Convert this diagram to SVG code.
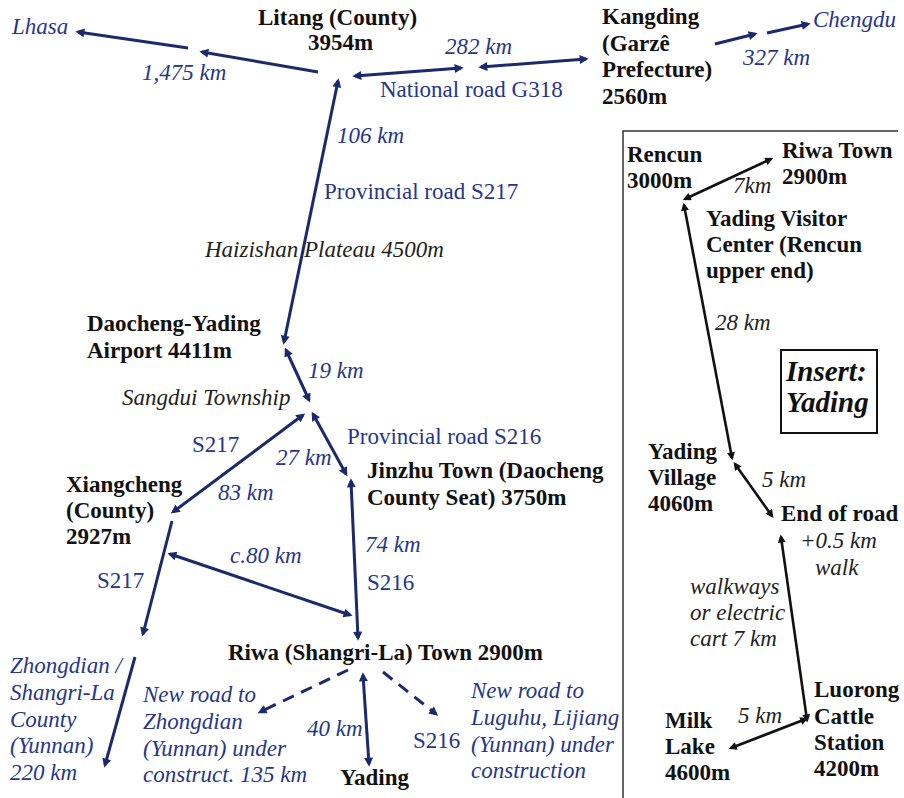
<svg xmlns="http://www.w3.org/2000/svg" width="904" height="798" viewBox="0 0 904 798" font-family="'Liberation Serif', 'DejaVu Serif', serif">
<style>
text{font-family:'Liberation Serif','DejaVu Serif','Noto Serif',serif;font-size:23px}
.b{font-weight:bold;fill:#111}
.bl{fill:#26368a}
.bi{fill:#26368a;font-style:italic}
.ki{fill:#222;font-style:italic}
.ln{stroke:#1a2a6c;stroke-width:3;fill:none}
.lk{stroke:#111;stroke-width:2.6;fill:none}
.d{stroke-dasharray:12 8}
</style>
<defs>
<marker id="an" viewBox="0 0 10 10" refX="7" refY="5" markerWidth="11" markerHeight="9" markerUnits="userSpaceOnUse" orient="auto-start-reverse"><path d="M0,0 L10,5 L0,10 z" fill="#1a2a6c"/></marker>
<marker id="ak" viewBox="0 0 10 10" refX="7" refY="5" markerWidth="10" markerHeight="8" markerUnits="userSpaceOnUse" orient="auto-start-reverse"><path d="M0,0 L10,5 L0,10 z" fill="#111"/></marker>
</defs>
<rect width="904" height="798" fill="#fff"/>

<g id="connectors">
<line class="ln" x1="188" y1="48" x2="78" y2="32" marker-end="url(#an)"/>
<line class="ln" x1="318" y1="72" x2="202" y2="52" marker-end="url(#an)"/>
<line class="ln" x1="355" y1="76" x2="461" y2="68" marker-start="url(#an)" marker-end="url(#an)"/>
<line class="ln" x1="481" y1="67" x2="586" y2="59" marker-start="url(#an)" marker-end="url(#an)"/>
<line class="ln" x1="715" y1="44" x2="755" y2="34" marker-end="url(#an)"/>
<line class="ln" x1="767" y1="33" x2="808" y2="24" marker-end="url(#an)"/>
<line class="ln" x1="338" y1="81" x2="284" y2="342" marker-start="url(#an)" marker-end="url(#an)"/>
<line class="ln" x1="286" y1="350" x2="309" y2="400" marker-start="url(#an)" marker-end="url(#an)"/>
<line class="ln" x1="303" y1="415" x2="173" y2="512" marker-start="url(#an)" marker-end="url(#an)"/>
<line class="ln" x1="313" y1="414" x2="346" y2="474" marker-start="url(#an)" marker-end="url(#an)"/>
<line class="ln" x1="351" y1="481" x2="358" y2="638" marker-start="url(#an)" marker-end="url(#an)"/>
<line class="ln" x1="172" y1="521" x2="143" y2="634" marker-end="url(#an)"/>
<line class="ln" x1="170" y1="554" x2="350" y2="615" marker-start="url(#an)" marker-end="url(#an)"/>
<line class="ln" x1="135" y1="657" x2="105" y2="765" marker-end="url(#an)"/>
<line class="ln d" x1="348" y1="670" x2="260" y2="712" marker-end="url(#an)"/>
<line class="ln d" x1="383" y1="672" x2="436" y2="714" marker-end="url(#an)"/>
<line class="ln" x1="363" y1="675" x2="369" y2="764" marker-start="url(#an)" marker-end="url(#an)"/>

<line class="lk" x1="685" y1="199" x2="771" y2="159" marker-start="url(#ak)" marker-end="url(#ak)"/>
<line class="lk" x1="684" y1="205" x2="732" y2="458" marker-start="url(#ak)" marker-end="url(#ak)"/>
<line class="lk" x1="735" y1="464" x2="772" y2="516" marker-start="url(#ak)" marker-end="url(#ak)"/>
<line class="lk" x1="781" y1="537" x2="807" y2="720" marker-start="url(#ak)" marker-end="url(#ak)"/>
<line class="lk" x1="731" y1="748" x2="806" y2="719" marker-start="url(#ak)" marker-end="url(#ak)"/>
</g>

<g id="edge-labels">
<text class="bi" x="142" y="80">1,475 km</text>
<text class="bi" x="445" y="54">282 km</text>
<text class="bl" x="380" y="97">National road G318</text>
<text class="bi" x="743" y="65">327 km</text>
<text class="bi" x="337" y="143">106 km</text>
<text class="bl" x="324" y="199">Provincial road S217</text>
<text class="ki" x="205" y="257">Haizishan Plateau 4500m</text>
<text class="bi" x="308" y="378">19 km</text>
<text class="bl" x="192" y="452">S217</text>
<text class="bi" x="276" y="465">27 km</text>
<text class="bl" x="347" y="444">Provincial road S216</text>
<text class="bi" x="218" y="500">83 km</text>
<text class="bi" x="365" y="552">74 km</text>
<text class="bi" x="230" y="563">c.80 km</text>
<text class="bl" x="367" y="590">S216</text>
<text class="bl" x="97" y="588">S217</text>
<text class="bi" x="307" y="736">40 km</text>
<text class="bl" x="413" y="748">S216</text>
<text class="ki" x="733" y="193">7km</text>
<text class="ki" x="715" y="330">28 km</text>
<text class="ki" x="762" y="487">5 km</text>
<text class="ki" x="800" y="548">+0.5 km</text>
<text class="ki" x="815" y="575">walk</text>
<text class="ki" x="690" y="594">walkways</text>
<text class="ki" x="690" y="620">or electric</text>
<text class="ki" x="690" y="646">cart 7 km</text>
<text class="ki" x="738" y="723">5 km</text>
</g>

<g id="lhasa"><text class="bi" x="12" y="34">Lhasa</text></g>
<g id="litang"><text class="b" x="258" y="25">Litang (County)</text><text class="b" x="308" y="50">3954m</text></g>
<g id="kangding"><text class="b" x="602" y="24">Kangding</text><text class="b" x="602" y="51">(Garzê</text><text class="b" x="602" y="77">Prefecture)</text><text class="b" x="602" y="104">2560m</text></g>
<g id="chengdu"><text class="bi" x="813" y="27">Chengdu</text></g>
<g id="airport"><text class="b" x="87" y="331">Daocheng-Yading</text><text class="b" x="87" y="358">Airport 4411m</text></g>
<g id="sangdui"><text class="ki" x="122" y="405">Sangdui Township</text></g>
<g id="xiangcheng"><text class="b" x="66" y="492">Xiangcheng</text><text class="b" x="66" y="518">(County)</text><text class="b" x="66" y="544">2927m</text></g>
<g id="jinzhu"><text class="b" x="367" y="478">Jinzhu Town (Daocheng</text><text class="b" x="367" y="505">County Seat) 3750m</text></g>
<g id="riwa"><text class="b" x="228" y="660">Riwa (Shangri-La) Town 2900m</text></g>
<g id="zhongdian"><text class="bi" x="10" y="673">Zhongdian /</text><text class="bi" x="10" y="700">Shangri-La</text><text class="bi" x="10" y="727">County</text><text class="bi" x="10" y="753">(Yunnan)</text><text class="bi" x="10" y="780">220 km</text></g>
<g id="new-road-zhongdian"><text class="bi" x="143" y="702">New road to</text><text class="bi" x="143" y="729">Zhongdian</text><text class="bi" x="143" y="756">(Yunnan) under</text><text class="bi" x="143" y="782">construct. 135 km</text></g>
<g id="yading"><text class="b" x="340" y="785">Yading</text></g>
<g id="new-road-luguhu"><text class="bi" x="471" y="698">New road to</text><text class="bi" x="471" y="725">Luguhu, Lijiang</text><text class="bi" x="471" y="752">(Yunnan) under</text><text class="bi" x="471" y="778">construction</text></g>

<g id="insert">
<path d="M898 131 H623 V798" fill="none" stroke="#333" stroke-width="1.5"/>
<g id="insert-title"><rect x="781" y="350" width="96" height="83" fill="none" stroke="#111" stroke-width="2"/><text class="b" x="786" y="381" style="font-style:italic;font-size:29px">Insert:</text><text class="b" x="786" y="412" style="font-style:italic;font-size:29px">Yading</text></g>
<g id="rencun"><text class="b" x="627" y="162">Rencun</text><text class="b" x="627" y="188">3000m</text></g>
<g id="riwa-town"><text class="b" x="782" y="158">Riwa Town</text><text class="b" x="782" y="184">2900m</text></g>
<g id="visitor-center"><text class="b" x="706" y="226">Yading Visitor</text><text class="b" x="706" y="252">Center (Rencun</text><text class="b" x="706" y="278">upper end)</text></g>
<g id="yading-village"><text class="b" x="648" y="459">Yading</text><text class="b" x="648" y="485">Village</text><text class="b" x="648" y="511">4060m</text></g>
<g id="end-of-road"><text class="b" x="781" y="521">End of road</text></g>
<g id="luorong"><text class="b" x="814" y="697">Luorong</text><text class="b" x="814" y="724">Cattle</text><text class="b" x="814" y="750">Station</text><text class="b" x="814" y="776">4200m</text></g>
<g id="milk-lake"><text class="b" x="665" y="728">Milk</text><text class="b" x="665" y="754">Lake</text><text class="b" x="665" y="780">4600m</text></g>
</g>
</svg>
